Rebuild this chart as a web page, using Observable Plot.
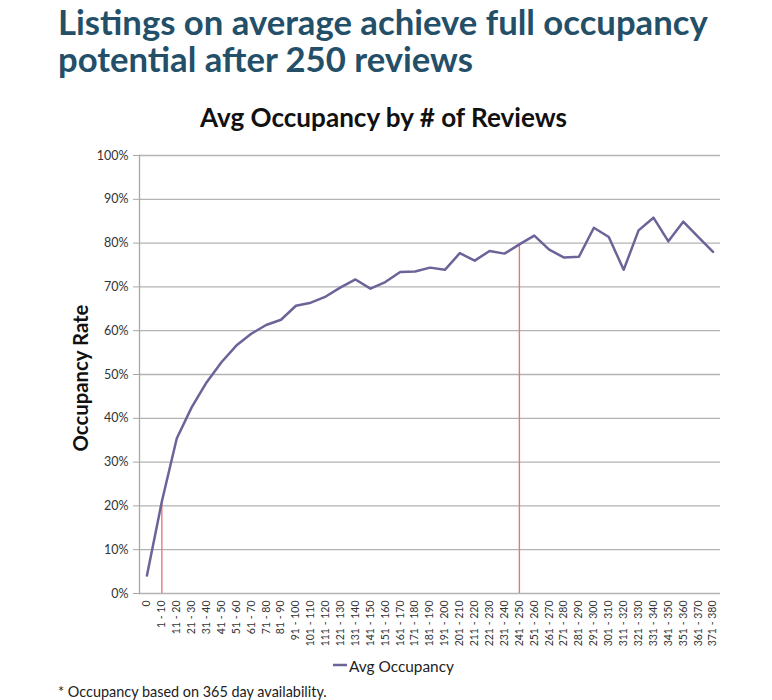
<!DOCTYPE html>
<html><head><meta charset="utf-8">
<script src="https://cdn.jsdelivr.net/npm/d3@7"></script>
<script src="https://cdn.jsdelivr.net/npm/@observablehq/plot@0.6"></script>
<style>
body{margin:0;background:#fff;width:772px;height:700px;position:relative;overflow:hidden;font-family:Lato,"Open Sans",sans-serif;}
#chart{position:absolute;left:0;top:130px;}
#overlay{position:absolute;left:0;top:0;}
</style>
</head><body>
<div id="chart"></div>
<svg id="overlay" width="772" height="700" font-family="Lato, 'Open Sans', sans-serif">
  <text id="t1" x="58" y="35" font-size="30" font-weight="700" fill="#235068">Listings on average achieve full occupancy</text>
  <text id="t2" x="58" y="72" font-size="30" font-weight="700" fill="#235068">potential after 250 reviews</text>
  <text id="sub" x="200" y="127" font-size="22" font-weight="700" fill="#111">Avg Occupancy by # of Reviews</text>
  <text id="ylab" transform="translate(88,378) rotate(-90)" text-anchor="middle" font-size="18" font-weight="700" fill="#111">Occupancy Rate</text>
  <line x1="333" x2="347" y1="665" y2="665" stroke="#6c6399" stroke-width="2.5"></line>
  <text id="leg" x="349" y="672" font-size="15" fill="#222">Avg Occupancy</text>
  <text id="foot" x="58" y="697" font-size="12" fill="#222">* Occupancy based on 365 day availability.</text>
</svg>
<script>
const categories = ["0","1 - 10","11 - 20","21 - 30","31 - 40","41 - 50","51 - 60","61 - 70","71 - 80","81 - 90",
  "91 - 100","101 - 110","111 - 120","121 - 130","131 - 140","141 - 150","151 - 160","161 - 170","171 - 180","181 - 190",
  "191 - 200","201 - 210","211 - 220","221 - 230","231 - 240","241 - 250","251 - 260","261 - 270","271 - 280","281 - 290",
  "291 - 300","301 - 310","311 - 320","321 - 330","331 - 340","341 - 350","351 - 360","361 - 370","371 - 380"];
const occupancy = [4.1, 21.0, 35.4, 42.5, 48.2, 52.8, 56.6, 59.3, 61.3, 62.5,
  65.7, 66.4, 67.8, 69.9, 71.7, 69.6, 71.1, 73.4, 73.5, 74.4,
  73.9, 77.7, 76.0, 78.2, 77.6, 79.7, 81.7, 78.5, 76.7, 76.9,
  83.5, 81.4, 73.9, 82.9, 85.8, 80.4, 84.9, 81.4, 78.0];
const highlighted = ["1 - 10", "241 - 250"];
const yTicks = [0,10,20,30,40,50,60,70,80,90,100];

const data = categories.map((c, i) => ({cat: c, occ: occupancy[i] / 100}));
const marked = data.filter(d => highlighted.includes(d.cat));

const chart = Plot.plot({
  width: 772, height: 530,
  marginLeft: 139, marginRight: 52, marginTop: 25, marginBottom: 67,
  style: {fontFamily: "Lato, 'Open Sans', sans-serif", background: "transparent", color: "#333"},
  x: {type: "point", domain: categories, padding: 0.5},
  y: {domain: [0, 1]},
  marks: [
    Plot.gridY(yTicks.map(d => d / 100), {stroke: "#b3b3b3", strokeOpacity: 1, strokeWidth: 1.3}),
    Plot.frame({anchor: "left", stroke: "#a8a8a8", strokeWidth: 1.3}),
    Plot.axisY(yTicks.map(d => d / 100), {tickSize: 6, tickPadding: 5, stroke: "#a8a8a8", fontSize: 12.5, fill: "#333",
      tickFormat: d => Math.round(d * 100) + "%", label: null}),
    Plot.axisX({tickSize: 0, tickRotate: -90, tickPadding: 7, fontSize: 10.5, fill: "#333", label: null}),
    Plot.ruleX(marked, {x: "cat", y1: 0, y2: "occ", stroke: "#e8797a", strokeWidth: 1.4}),
    Plot.line(data, {x: "cat", y: "occ", stroke: "#6c6399", strokeWidth: 2.5})
  ]
});
document.getElementById("chart").appendChild(chart);

// fit overlay texts to the widths measured on the reference
function fit(id, target) {
  const el = document.getElementById(id);
  const fs = parseFloat(el.getAttribute("font-size"));
  const w = el.getComputedTextLength();
  const nfs = fs * target / w;
  el.setAttribute("font-size", nfs.toFixed(2));
  return nfs;
}
const tfs = fit("t1", 650);
document.getElementById("t2").setAttribute("font-size", tfs.toFixed(2));
fit("sub", 367);
fit("ylab", 147);
fit("leg", 105);
fit("foot", 269);
</script>
</body></html>
